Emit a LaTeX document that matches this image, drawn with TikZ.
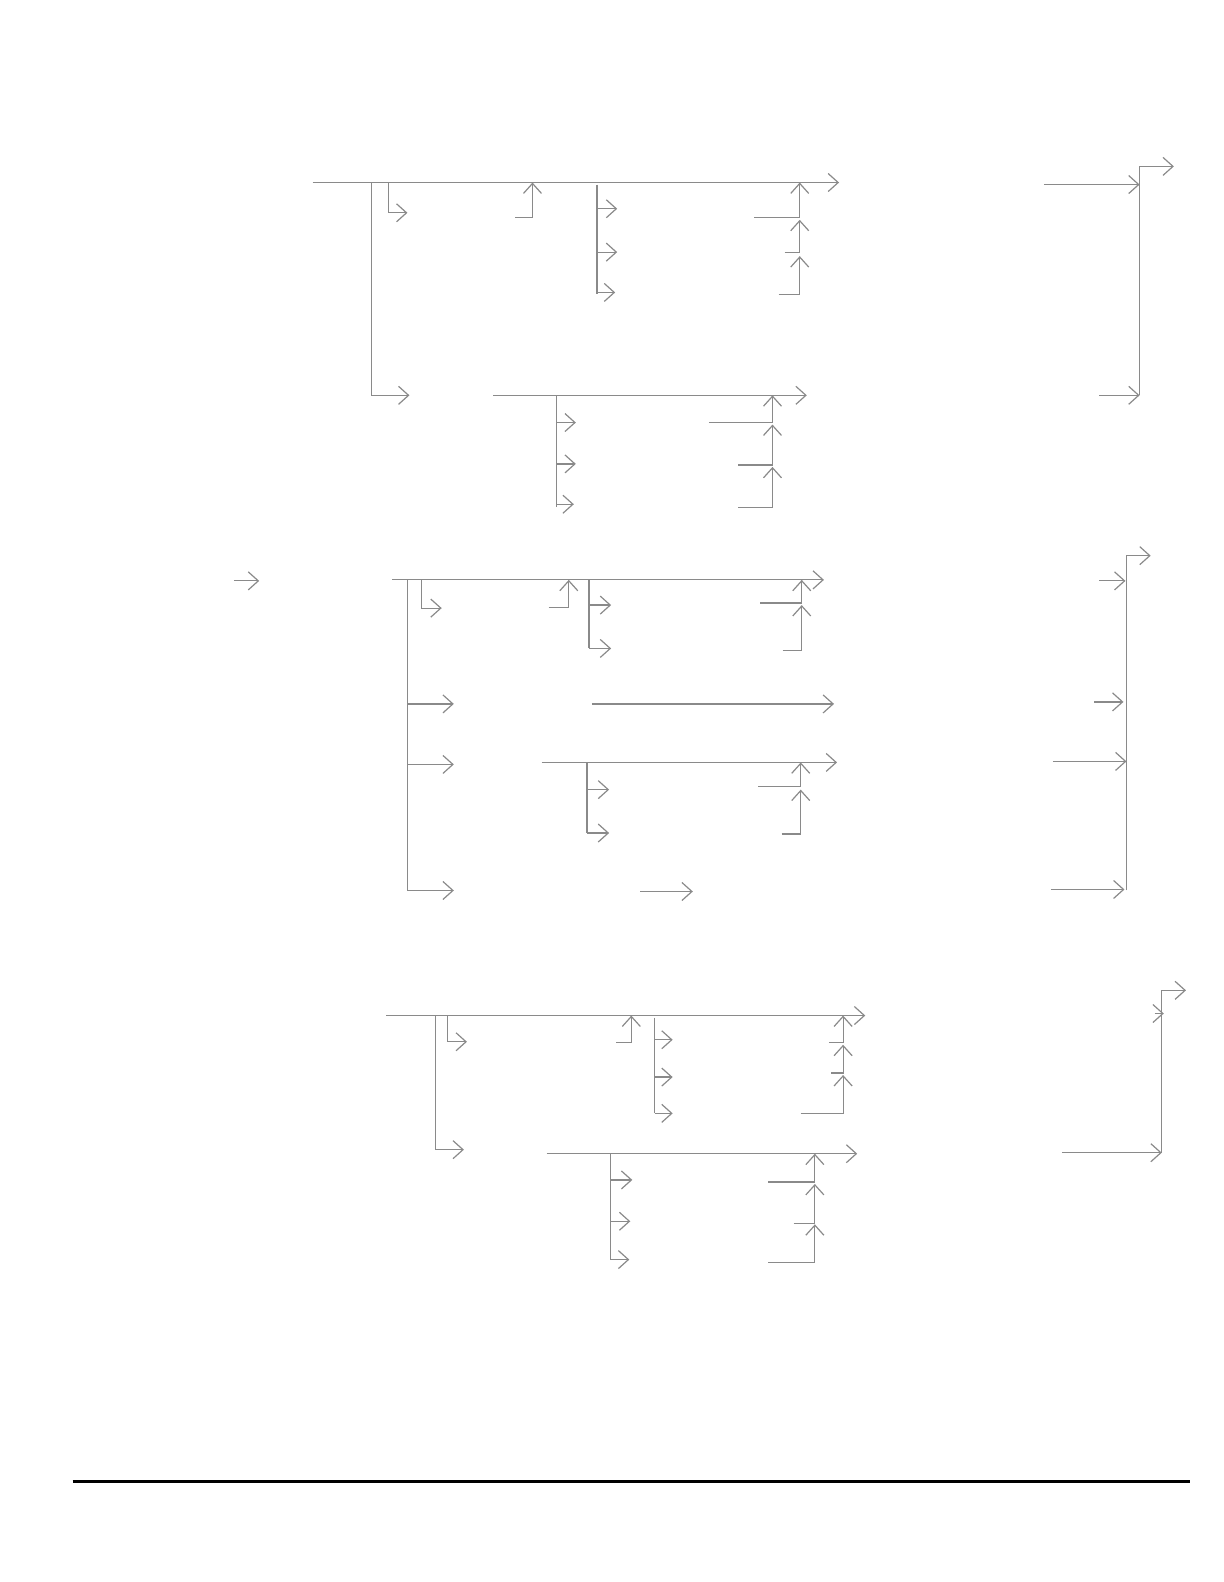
\documentclass[tikz,border=0pt]{standalone}
\usetikzlibrary{arrows.meta}
\definecolor{ln}{HTML}{8A8A8A}
\tikzset{
  ln/.style={draw=ln, line width=0.6pt},
  ar/.style={ln, -{Straight Barb[length=5pt,width=9pt,line width=0.6pt]}},
  rule/.style={draw=black, line width=1.1pt}
}
\begin{document}
\begin{tikzpicture}[x=0.50425pt,y=-0.50425pt]
\useasboundingbox (0,0) rectangle (1213.7,1568.7);
% ---------- Section 1 ----------
\draw[ar] (310,181) -- (832,181);
\draw[ar] (368,181) -- (368,392) -- (406,392);
\draw[ar] (385,181) -- (385,211) -- (404,211);
\draw[ar] (511,216) -- (528,216) -- (528,181);
\draw[ln] (592,183) -- (592,292);
\draw[ar] (592,207) -- (612,207);
\draw[ar] (592,250) -- (612,250);
\draw[ar] (592,290) -- (610,290);
\draw[ar] (748,216) -- (793,216) -- (793,181);
\draw[ar] (778,250) -- (793,250) -- (793,218);
\draw[ar] (772,292) -- (793,292) -- (793,254);
\draw[ar] (1035,183) -- (1130,183);
\draw[ar] (1090,392) -- (1130,392);
\draw[ar] (1130,392) -- (1130,165) -- (1164,165);
% sub-branch
\draw[ar] (489,392) -- (800,392);
\draw[ln] (552,392) -- (552,503);
\draw[ar] (552,419) -- (571,419);
\draw[ar] (552,460) -- (571,460);
\draw[ar] (552,500) -- (569,500);
\draw[ar] (703,419) -- (766,419) -- (766,392);
\draw[ar] (732,461) -- (766,461) -- (766,421);
\draw[ar] (732,503) -- (766,503) -- (766,463);
% ---------- Section 2 ----------
\draw[ar] (232,576) -- (257,576);
\draw[ar] (389,575) -- (817,575);
\draw[ln] (404,575) -- (404,883);
\draw[ar] (404,698) -- (450,698);
\draw[ar] (404,758) -- (450,758);
\draw[ar] (404,883) -- (450,883);
\draw[ar] (418,575) -- (418,603) -- (438,603);
\draw[ar] (544,602) -- (564,602) -- (564,575);
\draw[ln] (584,575) -- (584,643);
\draw[ar] (584,600) -- (606,600);
\draw[ar] (584,643) -- (606,643);
\draw[ar] (754,598) -- (795,598) -- (795,575);
\draw[ar] (776,645) -- (795,645) -- (795,600);
\draw[ar] (587,698) -- (827,698);
\draw[ar] (537,756) -- (830,756);
\draw[ln] (582,756) -- (582,826);
\draw[ar] (582,783) -- (604,783);
\draw[ar] (582,826) -- (604,826);
\draw[ar] (752,780) -- (794,780) -- (794,756);
\draw[ar] (775,827) -- (794,827) -- (794,783);
\draw[ar] (635,884) -- (687,884);
\draw[ar] (1117,883) -- (1117,551) -- (1141,551);
\draw[ar] (1090,576) -- (1116,576);
\draw[ar] (1085,696) -- (1114,696);
\draw[ar] (1044,755) -- (1117,755);
\draw[ar] (1042,882) -- (1115,882);
% ---------- Section 3 ----------
\draw[ar] (383,1007) -- (858,1007);
\draw[ar] (432,1007) -- (432,1140) -- (460,1140);
\draw[ar] (444,1007) -- (444,1033) -- (463,1033);
\draw[ar] (611,1034) -- (626,1034) -- (626,1007);
\draw[ln] (649,1009) -- (649,1104);
\draw[ar] (649,1031) -- (667,1031);
\draw[ar] (649,1068) -- (667,1068);
\draw[ar] (649,1104) -- (667,1104);
\draw[ar] (822,1034) -- (836,1034) -- (836,1007);
\draw[ar] (824,1064) -- (836,1064) -- (836,1036);
\draw[ar] (794,1104) -- (836,1104) -- (836,1066);
\draw[ar] (1152,1143) -- (1152,982) -- (1176,982);
\draw[ar] (1145,1005) -- (1154,1005);
\draw[ar] (542,1144) -- (850,1144);
\draw[ln] (605,1144) -- (605,1249);
\draw[ar] (605,1170) -- (627,1170);
\draw[ar] (605,1211) -- (625,1211);
\draw[ar] (605,1249) -- (624,1249);
\draw[ar] (762,1172) -- (808,1172) -- (808,1144);
\draw[ar] (787,1213) -- (808,1213) -- (808,1174);
\draw[ar] (762,1252) -- (808,1252) -- (808,1214);
\draw[ar] (1053,1143) -- (1152,1143);
% ---------- bottom rule ----------
\draw[rule] (72,1469) -- (1180,1469);
\end{tikzpicture}
\end{document}
